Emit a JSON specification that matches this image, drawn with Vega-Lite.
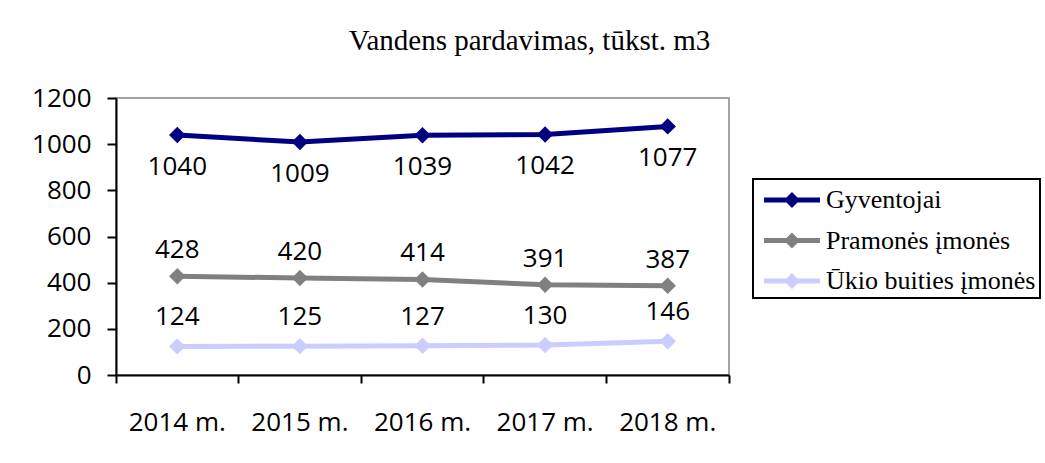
{
  "$schema": "https://vega.github.io/schema/vega-lite/v6.json",
  "width": 613,
  "height": 277,
  "autosize": {"type": "none"},
  "padding": {"left": 116, "top": 98, "right": 316, "bottom": 88},
  "background": "white",
  "title": {"text": "Vandens pardavimas, tūkst. m3", "font": "Liberation Serif", "fontSize": 29, "fontWeight": "normal", "color": "black", "anchor": "middle", "frame": "group", "dx": 107, "offset": 29},
  "data": {"values": [
    {"year": "2014 m.", "series": "Gyventojai", "value": 1040},
    {"year": "2015 m.", "series": "Gyventojai", "value": 1009},
    {"year": "2016 m.", "series": "Gyventojai", "value": 1039},
    {"year": "2017 m.", "series": "Gyventojai", "value": 1042},
    {"year": "2018 m.", "series": "Gyventojai", "value": 1077},
    {"year": "2014 m.", "series": "Pramonės įmonės", "value": 428},
    {"year": "2015 m.", "series": "Pramonės įmonės", "value": 420},
    {"year": "2016 m.", "series": "Pramonės įmonės", "value": 414},
    {"year": "2017 m.", "series": "Pramonės įmonės", "value": 391},
    {"year": "2018 m.", "series": "Pramonės įmonės", "value": 387},
    {"year": "2014 m.", "series": "Ūkio buities įmonės", "value": 124},
    {"year": "2015 m.", "series": "Ūkio buities įmonės", "value": 125},
    {"year": "2016 m.", "series": "Ūkio buities įmonės", "value": 127},
    {"year": "2017 m.", "series": "Ūkio buities įmonės", "value": 130},
    {"year": "2018 m.", "series": "Ūkio buities įmonės", "value": 146}
  ]},
  "encoding": {
    "x": {"field": "year", "type": "ordinal", "scale": {"type": "band", "paddingInner": 0, "paddingOuter": 0},
      "axis": {"title": null, "bandPosition": 1, "tickExtra": true, "labelAngle": 0, "labelOverlap": false, "grid": false,
        "domainColor": "black", "domainWidth": 2, "tickColor": "black", "tickWidth": 2, "tickSize": 8,
        "labelFont": "Open Sans", "labelFontSize": 26, "labelColor": "black", "labelPadding": 26}},
    "y": {"field": "value", "type": "quantitative", "scale": {"domain": [0, 1200], "nice": false},
      "axis": {"title": null, "values": [0, 200, 400, 600, 800, 1000, 1200], "format": "d", "grid": false,
        "domainColor": "black", "domainWidth": 2, "tickColor": "black", "tickWidth": 2, "tickSize": 9,
        "labelFont": "Open Sans", "labelFontSize": 26, "labelColor": "black", "labelPadding": 16}},
    "color": {"field": "series", "type": "nominal",
       "scale": {"domain": ["Gyventojai", "Pramonės įmonės", "Ūkio buities įmonės"], "range": ["#000080", "#808080", "#CCCCFF"]},
       "legend": {"title": null, "orient": "none", "legendX": 637, "legendY": 81, "strokeColor": "black", "padding": 4, "fillColor": "white",
         "labelFont": "Liberation Serif", "labelFontSize": 26, "labelColor": "black", "labelLimit": 400, "labelOffset": 35,
         "symbolType": "M-0.59,-0.147L0.734,-0.147L1.057,-0.47L1.38,-0.147L2.706,-0.147L2.706,0.147L1.38,0.147L1.057,0.47L0.734,0.147L-0.59,0.147Z",
         "symbolSize": 1156, "symbolStrokeWidth": 0, "symbolOpacity": 1, "rowPadding": 10.5,
         "encode": {"legend": {"update": {"strokeWidth": {"value": 2}}}}}}
  },
  "layer": [
    {"mark": {"type": "line", "strokeWidth": 5}},
    {"mark": {"type": "point", "shape": "diamond", "filled": true, "size": 270, "opacity": 1}},
    {"transform": [{"filter": "datum.series === 'Gyventojai'"}],
     "mark": {"type": "text", "dy": 32, "font": "Open Sans", "fontSize": 26, "color": "black"},
     "encoding": {"color": {"value": "black"}, "text": {"field": "value", "type": "quantitative", "format": "d"}}},
    {"transform": [{"filter": "datum.series === 'Pramonės įmonės'"}],
     "mark": {"type": "text", "dy": -26, "font": "Open Sans", "fontSize": 26, "color": "black"},
     "encoding": {"color": {"value": "black"}, "text": {"field": "value", "type": "quantitative", "format": "d"}}},
    {"transform": [{"filter": "datum.series === 'Ūkio buities įmonės'"}],
     "mark": {"type": "text", "dy": -29, "font": "Open Sans", "fontSize": 26, "color": "black"},
     "encoding": {"color": {"value": "black"}, "text": {"field": "value", "type": "quantitative", "format": "d"}}}
  ],
  "config": {
    "view": {"stroke": "#868686", "strokeWidth": 1.5}
  }
}
